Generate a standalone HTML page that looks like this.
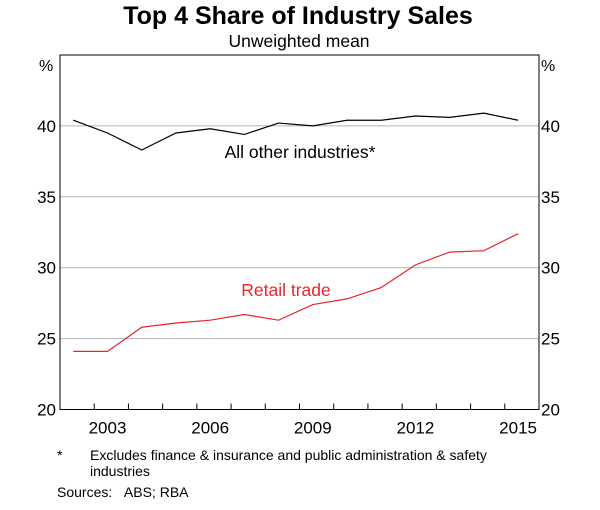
<!DOCTYPE html>
<html><head><meta charset="utf-8"><style>
body{margin:0;background:#fff;font-family:"Liberation Sans",Arial,sans-serif;}
svg text{font-family:"Liberation Sans",Arial,sans-serif;}
</style></head><body>
<svg id="chart" width="600" height="505" xmlns="http://www.w3.org/2000/svg">
<text x="298" y="24" text-anchor="middle" font-size="25" font-weight="bold">Top 4 Share of Industry Sales</text>
<text x="299" y="47" text-anchor="middle" font-size="17.5">Unweighted mean</text>
<text x="39" y="71" font-size="16">%</text>
<text x="541" y="71" font-size="16">%</text>
<g id="grid"></g><g id="series"></g><g id="axes"></g>
<text x="300" y="158" text-anchor="middle" font-size="17.5">All other industries*</text>
<text x="286" y="296" text-anchor="middle" font-size="17.5" fill="#e8262b">Retail trade</text>
<text x="57" y="460" font-size="14">*</text>
<text x="90" y="460" font-size="14">Excludes finance &amp; insurance and public administration &amp; safety</text>
<text x="90" y="476" font-size="14">industries</text>
<text x="57" y="497" font-size="14">Sources:&#160;&#160;&#160;ABS; RBA</text>
</svg>
<script>
const years=[2002,2003,2004,2005,2006,2007,2008,2009,2010,2011,2012,2013,2014,2015];
const otherIndustries=[40.4,39.5,38.3,39.5,39.8,39.4,40.2,40.0,40.4,40.4,40.7,40.6,40.9,40.4];
const retailTrade=[24.1,24.1,25.8,26.1,26.3,26.7,26.3,27.4,27.8,28.6,30.2,31.1,31.2,32.4];
const yTicks=[20,25,30,35,40];
const xLabels=[2003,2006,2009,2012,2015];
const L=60,R=539,T=55,B=409.5,NS="http://www.w3.org/2000/svg";
const yMin=20,yMax=45;
const y=v=>B-(v-yMin)/(yMax-yMin)*(B-T);
const step=(R-L)/years.length;
const x=yr=>L+(yr-years[0])*step+13.3;
function mk(tag,attrs,parent){const e=document.createElementNS(NS,tag);for(const k in attrs)e.setAttribute(k,attrs[k]);document.getElementById(parent).appendChild(e);return e;}
yTicks.forEach(t=>{
 if(t>yMin){const g=mk('line',{x1:L,x2:R,y1:y(t),y2:y(t),stroke:'#b4b4b4','stroke-width':1},'grid');
 
 }
 const a=mk('text',{x:L-4,y:y(t)+6,'text-anchor':'end','font-size':17},'axes');a.textContent=t;
 
 
 const b=mk('text',{x:R+2,y:y(t)+6,'font-size':17},'axes');b.textContent=t;
 
 
});
const frame=mk('rect',{x:L,y:T,width:R-L,height:B-T,fill:'none',stroke:'#000','stroke-width':1},'axes');


for(let i=1;i<years.length;i++){const tk=mk('line',{x1:L+i*step,x2:L+i*step,y1:B,y2:B-6,stroke:'#000'},'axes');
 
 }
xLabels.forEach(yr=>{const t=mk('text',{x:x(yr),y:B+24,'text-anchor':'middle','font-size':17},'axes');t.textContent=yr;
 
 });
function line(vals,color,name){const p=mk('polyline',{points:vals.map((v,i)=>x(years[i])+','+y(v)).join(' '),fill:'none',stroke:color,'stroke-width':1.2},'series');
 
 }
line(otherIndustries,'#000','all-other-industries-line');
line(retailTrade,'#e8262b','retail-trade-line');
</script>
</body></html>
